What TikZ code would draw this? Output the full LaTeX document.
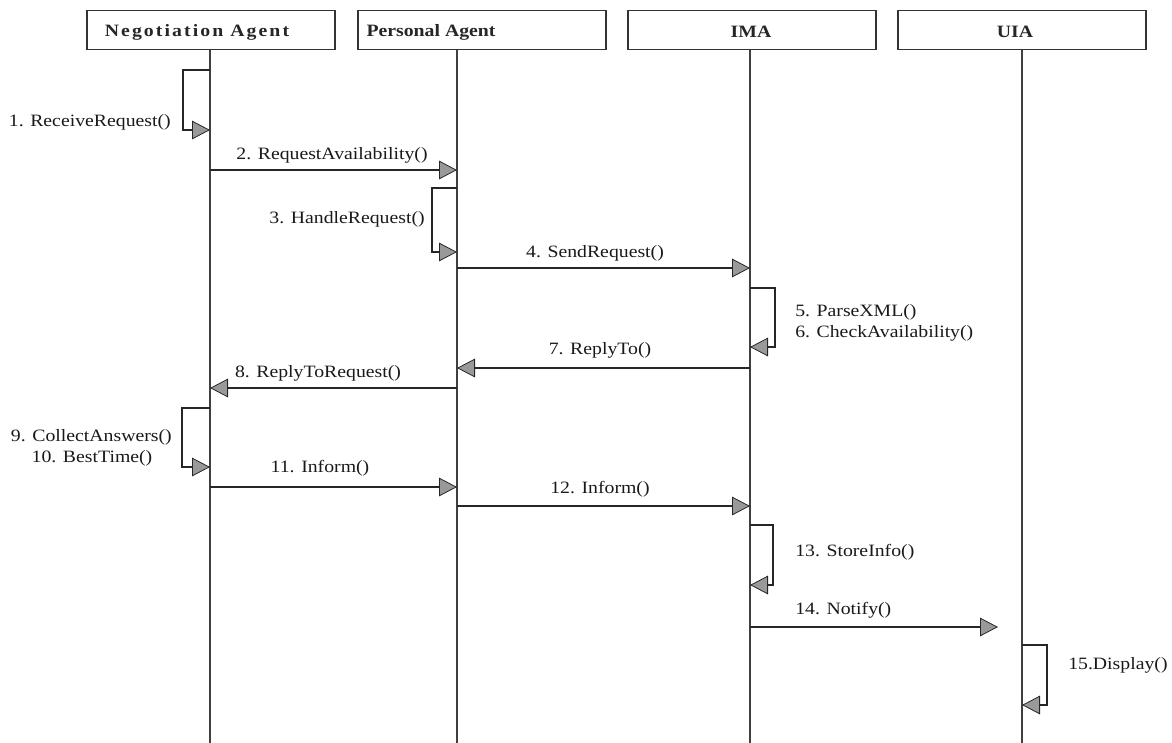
\documentclass[tikz,border=0pt]{standalone}
\usepackage{fontspec}
\setmainfont{Liberation Serif}
\newfontfamily\lblfont{Liberation Serif}[FakeStretch=1.14]
\newfontfamily\hdfont{Liberation Serif}[FakeStretch=1.14]
\newfontfamily\hdwide{Liberation Serif}[FakeStretch=1.14,LetterSpace=12]
\usetikzlibrary{arrows.meta}
\begin{document}
\begin{tikzpicture}[x=0.75pt,y=-0.75pt,
  headbox/.style={draw=black!80, line width=0.9pt, minimum width=186pt, minimum height=29pt, inner sep=0pt},
  headtxt/.style={font=\hdfont\fontsize{13}{15}\selectfont\bfseries, text=black!85, inner sep=0pt},
  life/.style={draw=black!75, line width=0.9pt},
  msg/.style={draw=black!85, line width=1.1pt, -{Triangle[length=13.5pt,width=14pt,fill=black!40,color=black!85,line width=0.6pt]}},
  lbl/.style={font=\lblfont\fontsize{13}{15}\selectfont, text=black!90, inner sep=0pt}]
\useasboundingbox (0,0) rectangle (1172,743);
% header boxes
\node[headbox] (bNA) at (211,30) {};
\node[headbox] (bPA) at (482,30) {};
\node[headbox] (bIMA) at (752,30) {};
\node[headbox] (bUIA) at (1022,30) {};
\node[headtxt, font=\hdwide\fontsize{13}{15}\selectfont\bfseries] (tNA) at (197,32) {Negotiation Agent};
\node[headtxt] (tPA) at (431,32) {Personal Agent};
\node[headtxt] (tIMA) at (751,32) {IMA};
\node[headtxt] (tUIA) at (1015,32) {UIA};
% lifelines
\coordinate (eNA) at (210,743);
\coordinate (ePA) at (457,743);
\coordinate (eIMA) at (750,743);
\coordinate (eUIA) at (1022,743);
\draw[life] (bNA.south -| eNA) -- (eNA);
\draw[life] (bPA.south -| ePA) -- (ePA);
\draw[life] (bIMA.south -| eIMA) -- (eIMA);
\draw[life] (bUIA.south -| eUIA) -- (eUIA);
% message points
\coordinate (a1) at (210,70);  \coordinate (b1) at (210,130);
\coordinate (a2) at (210,170); \coordinate (b2) at (457,170);
\coordinate (a3) at (457,188); \coordinate (b3) at (457,252);
\coordinate (a4) at (457,268); \coordinate (b4) at (750,268);
\coordinate (a5) at (750,288); \coordinate (b5) at (750,347);
\coordinate (a7) at (750,368); \coordinate (b7) at (457,368);
\coordinate (a8) at (457,388); \coordinate (b8) at (210,388);
\coordinate (a9) at (210,408); \coordinate (b9) at (210,467);
\coordinate (a11) at (210,487); \coordinate (b11) at (457,487);
\coordinate (a12) at (457,506); \coordinate (b12) at (750,506);
\coordinate (a13) at (750,525); \coordinate (b13) at (750,585);
\coordinate (a14) at (750,627); \coordinate (b14) at (998,627);
\coordinate (a15) at (1022,645); \coordinate (b15) at (1022,705);
% messages
\draw[msg] (a1) -- ++(-27,0) |- (b1);
\draw[msg] (a2) -- (b2);
\draw[msg] (a3) -- ++(-25,0) |- (b3);
\draw[msg] (a4) -- (b4);
\draw[msg] (a5) -- ++(25,0) |- (b5);
\draw[msg] (a7) -- (b7);
\draw[msg] (a8) -- (b8);
\draw[msg] (a9) -- ++(-28,0) |- (b9);
\draw[msg] (a11) -- (b11);
\draw[msg] (a12) -- (b12);
\draw[msg] (a13) -- ++(23,0) |- (b13);
\draw[msg] (a14) -- (b14);
\draw[msg] (a15) -- ++(25,0) |- (b15);
% labels
\node[lbl, anchor=east] (l1) at (171,122) {1. ReceiveRequest()};
\node[lbl] (l2) at (332,155) {2. RequestAvailability()};
\node[lbl, anchor=east] (l3) at (425,219) {3. HandleRequest()};
\node[lbl] (l4) at (595,253) {4. SendRequest()};
\node[lbl, anchor=west] (l5) at (795,312) {5. ParseXML()};
\node[lbl, anchor=west] (l6) at (795,333) {6. CheckAvailability()};
\node[lbl] (l7) at (600,350) {7. ReplyTo()};
\node[lbl] (l8) at (318,373) {8. ReplyToRequest()};
\node[lbl, anchor=east] (l9) at (172,437) {9. CollectAnswers()};
\node[lbl] (l10) at (92,458) {10. BestTime()};
\node[lbl] (l11) at (320,468) {11. Inform()};
\node[lbl] (l12) at (600,489) {12. Inform()};
\node[lbl, anchor=west] (l13) at (795,552) {13. StoreInfo()};
\node[lbl, anchor=west] (l14) at (795,610) {14. Notify()};
\node[lbl, anchor=west] (l15) at (1068,665) {15.Display()};
\end{tikzpicture}
\end{document}
